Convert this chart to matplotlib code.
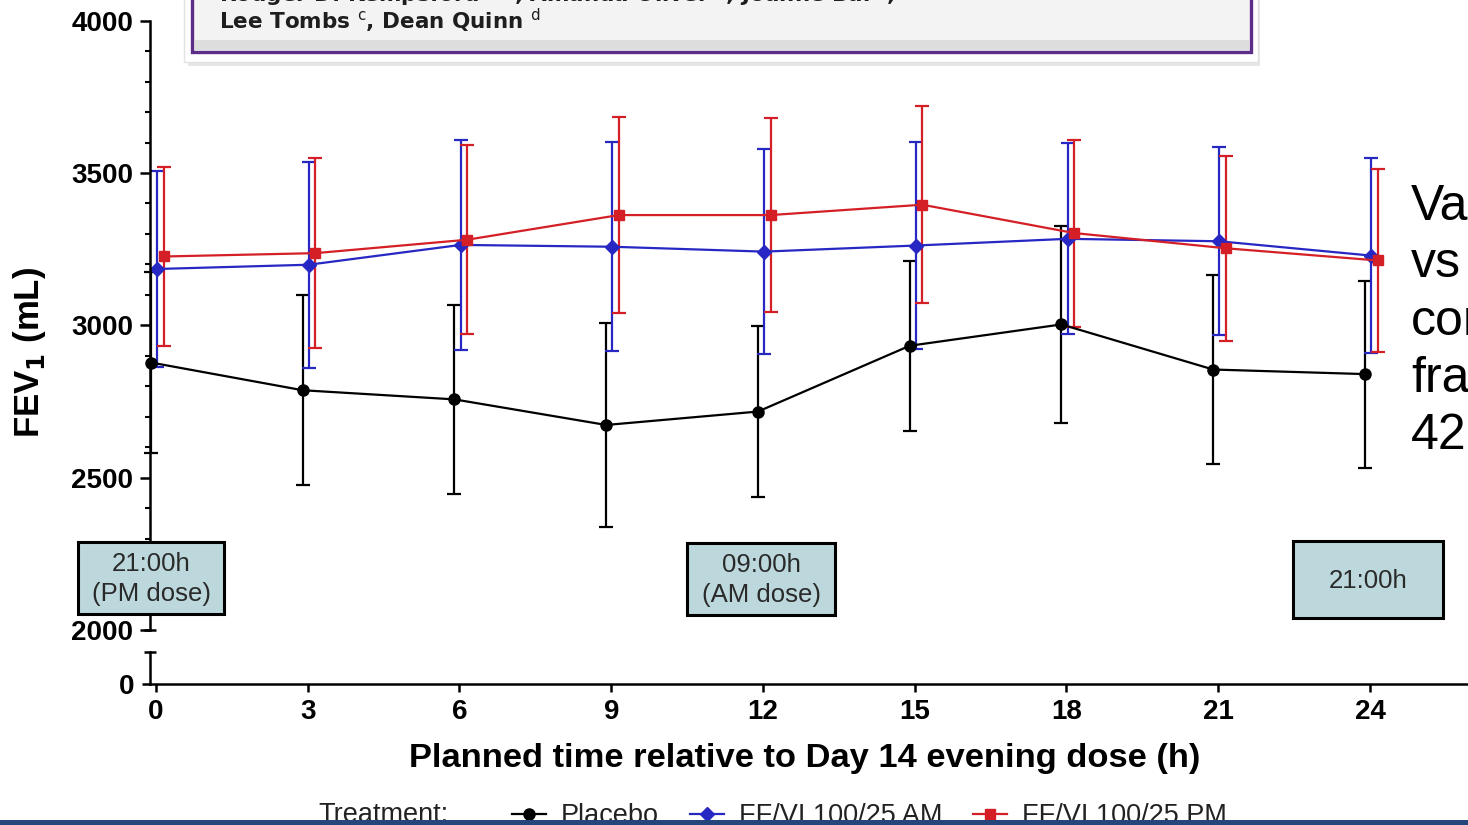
import matplotlib
matplotlib.use('Agg')
import matplotlib.pyplot as plt
from matplotlib.patches import Rectangle
from matplotlib.lines import Line2D

# FEV1 (mL) by planned time after the Day 14 evening dose, mean +/- SD
hours = [0, 3, 6, 9, 12, 15, 18, 21, 24]
placebo_mean = [2878, 2787, 2757, 2673, 2717, 2933, 3003, 2855, 2840]
placebo_sd = [298, 312, 310, 336, 280, 279, 323, 311, 307]
am_mean = [3185, 3199, 3264, 3258, 3242, 3262, 3284, 3276, 3229]
am_sd = [322, 338, 344, 343, 336, 341, 313, 308, 320]
pm_mean = [3226, 3237, 3281, 3362, 3362, 3396, 3303, 3253, 3213]
pm_sd = [295, 312, 310, 323, 319, 323, 307, 304, 301]

series_names = ['Placebo', 'FF/VI 100/25 AM', 'FF/VI 100/25 PM']
dose_labels = ['21:00h\n(PM dose)', '09:00h\n(AM dose)', '21:00h']
header_lines = [r'Rodger D. Kempsford $^{\rm a,b}$, Amanda Oliver $^{\rm b}$, Joanne Bal $^{\rm c}$,',
                r'Lee Tombs $^{\rm c}$, Dean Quinn $^{\rm d}$']
side_text = ['Va', 'vs', 'con', 'fra', '422']

W, H = 1468, 825
plt.rcParams['font.family'] = ['Liberation Sans', 'DejaVu Sans']

fig = plt.figure(figsize=(W / 100, H / 100), dpi=100)


def fx(px):
    return px / W


def fy(py):
    return 1 - py / H


def px_rect(x0, y0, x1, y1, **kw):
    return Rectangle((fx(x0), fy(y1)), fx(x1 - x0), (y1 - y0) / H,
                     transform=fig.transFigure, **kw)


# axis geometry (pixels): y spine at x=150, x=0 at 156, x=24 at 1370
x_left = -6 / 50.583
x_right = (W - 156) / 50.583

ax = fig.add_axes([fx(150), fy(630), 1 - fx(150), (630 - 20.7) / H])
axb = fig.add_axes([fx(150), fy(683.5), 1 - fx(150), (683.5 - 651.7) / H])

for a in (ax, axb):
    a.set_xlim(x_left, x_right)
    a.patch.set_alpha(0)
    for s in ('top', 'right'):
        a.spines[s].set_visible(False)
    for s in ('left', 'bottom'):
        a.spines[s].set_linewidth(1.8)

ax.spines['bottom'].set_visible(False)
ax.tick_params(axis='x', which='both', bottom=False, labelbottom=False)
ax.set_ylim(2000, 4000)
ax.set_yticks([2000, 2500, 3000, 3500, 4000])
ax.set_yticks(range(2000, 4001, 100), minor=True)
ax.tick_params(axis='y', which='major', length=7, width=1.8, pad=5, labelsize=20)
ax.tick_params(axis='y', which='minor', length=3.5, width=1.5)

axb.set_ylim(0, 100)
axb.set_yticks([0])
axb.set_xticks(hours)
axb.tick_params(axis='both', which='major', length=6, width=1.8, pad=5, labelsize=20)

for a in (ax, axb):
    for lab in a.get_xticklabels() + a.get_yticklabels():
        lab.set_fontweight('bold')

# caps at the ends of the broken y axis
ax.plot([0], [0], marker='_', ms=9, mew=1.8, color='black', transform=ax.transAxes, clip_on=False)
axb.plot([0], [1], marker='_', ms=9, mew=1.8, color='black', transform=axb.transAxes, clip_on=False)

colors = ['black', '#2727c4', '#d51f26']
markers = ['o', 'D', 's']
msizes = [8, 7, 7.5]
dodge = [-0.1, 0.02, 0.15]
means = [placebo_mean, am_mean, pm_mean]
sds = [placebo_sd, am_sd, pm_sd]

for mean, sd, c, m, ms, d in zip(means, sds, colors, markers, msizes, dodge):
    ax.errorbar([h + d for h in hours], mean, yerr=sd, fmt='-', marker=m, ms=ms,
                color=c, lw=1.6, elinewidth=1.6, capsize=5, capthick=1.6, clip_on=False)

fig.text(fx(30), fy(352), r'FEV$_\mathbf{1}$ (mL)', rotation=90, ha='center', va='center',
         fontsize=25, fontweight='bold')
fig.text(fx(805), fy(758), 'Planned time relative to Day 14 evening dose (h)',
         ha='center', va='center', fontsize=24.8, fontweight='bold')

# dose-time boxes
box_px = [(78, 542, 224, 614), (687, 543, 835, 615), (1293, 541, 1443, 618)]
for (x0, y0, x1, y1), lab in zip(box_px, dose_labels):
    fig.add_artist(px_rect(x0, y0, x1, y1, facecolor='#bcd8dc', edgecolor='black', lw=2.2, zorder=5))
    fig.text(fx((x0 + x1) / 2), fy((y0 + y1) / 2 + 1), lab, ha='center', va='center',
             fontsize=18.5, color='#2a2a2a', linespacing=1.3, zorder=6)

# article header box cut off at the top
fig.add_artist(px_rect(188, -10, 1260, 66, facecolor='#d6d6d6', edgecolor='none', zorder=4, alpha=0.6))
fig.add_artist(px_rect(184, -10, 1258, 62, facecolor='white', edgecolor='#e2e2e2', lw=1, zorder=4))
fig.add_artist(px_rect(192, -10, 1251, 52, facecolor='#f3f3f3', edgecolor='#5b2d86', lw=2.4, zorder=4))
fig.add_artist(px_rect(194, 40, 1249, 50, facecolor='#cfcfcf', edgecolor='none', zorder=4, alpha=0.6))
for i, line in enumerate(header_lines):
    fig.text(fx(219), fy(2 + 27 * i), line, ha='left', va='baseline', fontsize=15.5,
             fontweight='bold', family='DejaVu Sans', color='#1e1e1e', zorder=6)

# slide text cut off on the right
for i, word in enumerate(side_text):
    fig.text(fx(1411), fy(220 + 57.3 * i), word, ha='left', va='baseline', fontsize=36,
             color='black')

# treatment legend at the bottom
fig.text(fx(318), fy(822), 'Treatment:', ha='left', va='baseline', fontsize=19.5, color='#222222')
handles = [Line2D([], [], color=c, marker=m, ms=ms, lw=1.6) for c, m, ms in zip(colors, markers, msizes)]
fig.legend(handles, series_names, ncol=3, loc='lower left', bbox_to_anchor=(fx(512), fy(829)),
           frameon=False, fontsize=19.5, handlelength=1.25, handletextpad=0.55,
           columnspacing=1.15, borderpad=0, borderaxespad=0, labelcolor='#222222')

fig.add_artist(px_rect(0, 820, W, H + 5, facecolor='#24467a', edgecolor='none', zorder=10))

fig.savefig('out.png', dpi=100)
